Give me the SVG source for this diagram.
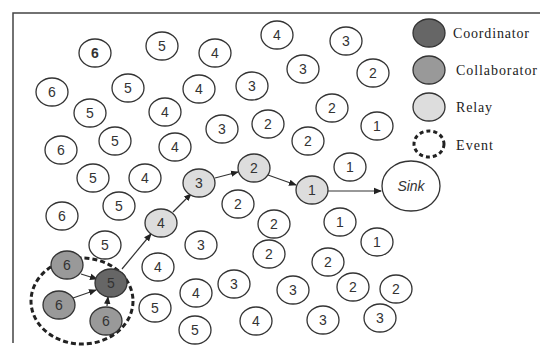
<svg xmlns="http://www.w3.org/2000/svg" width="540" height="347" viewBox="0 0 540 347">
<defs>
<marker id="ah" markerWidth="8" markerHeight="8" refX="7" refY="4" orient="auto" markerUnits="userSpaceOnUse">
<path d="M0,0.8 L8,4 L0,7.2 Z" fill="#222"/>
</marker>
<style>
.n ellipse{fill:#fff;stroke:#333;stroke-width:1.3}
.n text{font-family:"Liberation Sans",Arial,sans-serif;font-size:14px;fill:#333;text-anchor:middle}
.relay ellipse{fill:#ddd}
.coll ellipse{fill:#999}
.coord ellipse{fill:#666}
.lg{font-family:"Liberation Serif","Times New Roman",serif;font-size:14px;fill:#222}
.c line{stroke:#333;stroke-width:1.2;marker-end:url(#ah)}
</style>
</defs>
<rect width="540" height="347" fill="#fff"/>
<path d="M540,13 H13 V343" fill="none" stroke="#444" stroke-width="1.5"/>

<g id="event"><ellipse cx="82" cy="301" rx="51" ry="43" fill="none" stroke="#222" stroke-width="3" stroke-dasharray="5,3"/></g>

<g class="c" id="connectors">
<line x1="173" y1="212" x2="191" y2="194"/>
<line x1="215" y1="178" x2="238" y2="172"/>
<line x1="268" y1="175" x2="296" y2="185"/>
<line x1="327" y1="191" x2="381" y2="191"/>
<line x1="122" y1="269" x2="151" y2="234"/>
<line x1="81" y1="274" x2="97" y2="279"/>
<line x1="73" y1="298" x2="96" y2="290"/>
<line x1="107" y1="306" x2="108" y2="297"/>
</g>

<g class="n" id="n1"><ellipse cx="95" cy="53" rx="16" ry="14"/><text x="95" y="58" font-weight="bold">6</text></g>
<g class="n" id="n2"><ellipse cx="162" cy="46" rx="16" ry="14"/><text x="162" y="51">5</text></g>
<g class="n" id="n3"><ellipse cx="215" cy="53" rx="16" ry="14"/><text x="215" y="58">4</text></g>
<g class="n" id="n4"><ellipse cx="277" cy="35" rx="16" ry="14"/><text x="277" y="40">4</text></g>
<g class="n" id="n5"><ellipse cx="346" cy="41" rx="16" ry="14"/><text x="346" y="46">3</text></g>
<g class="n" id="n6"><ellipse cx="52" cy="92" rx="16" ry="14"/><text x="52" y="97">6</text></g>
<g class="n" id="n7"><ellipse cx="128" cy="88" rx="16" ry="14"/><text x="128" y="93">5</text></g>
<g class="n" id="n8"><ellipse cx="199" cy="89" rx="16" ry="14"/><text x="199" y="94">4</text></g>
<g class="n" id="n9"><ellipse cx="303" cy="69" rx="16" ry="14"/><text x="303" y="74">3</text></g>
<g class="n" id="n10"><ellipse cx="373" cy="73" rx="16" ry="14"/><text x="373" y="78">2</text></g>
<g class="n" id="n11"><ellipse cx="90" cy="113" rx="16" ry="14"/><text x="90" y="118">5</text></g>
<g class="n" id="n12"><ellipse cx="165" cy="112" rx="16" ry="14"/><text x="165" y="117">4</text></g>
<g class="n" id="n13"><ellipse cx="252" cy="86" rx="16" ry="14"/><text x="252" y="91">3</text></g>
<g class="n" id="n14"><ellipse cx="332" cy="108" rx="16" ry="14"/><text x="332" y="113">2</text></g>
<g class="n" id="n15"><ellipse cx="61" cy="150" rx="16" ry="14"/><text x="61" y="155">6</text></g>
<g class="n" id="n16"><ellipse cx="115" cy="141" rx="16" ry="14"/><text x="115" y="146">5</text></g>
<g class="n" id="n17"><ellipse cx="175" cy="147" rx="16" ry="14"/><text x="175" y="152">4</text></g>
<g class="n" id="n18"><ellipse cx="222" cy="129" rx="16" ry="14"/><text x="222" y="134">3</text></g>
<g class="n" id="n19"><ellipse cx="268" cy="124" rx="16" ry="14"/><text x="268" y="129">2</text></g>
<g class="n" id="n20"><ellipse cx="308" cy="141" rx="16" ry="14"/><text x="308" y="146">2</text></g>
<g class="n" id="n21"><ellipse cx="377" cy="126" rx="16" ry="14"/><text x="377" y="131">1</text></g>
<g class="n" id="n22"><ellipse cx="93" cy="178" rx="16" ry="14"/><text x="93" y="183">5</text></g>
<g class="n" id="n23"><ellipse cx="145" cy="178" rx="16" ry="14"/><text x="145" y="183">4</text></g>
<g class="n" id="n24"><ellipse cx="350" cy="167" rx="16" ry="14"/><text x="350" y="172">1</text></g>
<g class="n" id="n25"><ellipse cx="62" cy="216" rx="16" ry="14"/><text x="62" y="221">6</text></g>
<g class="n" id="n26"><ellipse cx="119" cy="206" rx="16" ry="14"/><text x="119" y="211">5</text></g>
<g class="n" id="n27"><ellipse cx="238" cy="204" rx="16" ry="14"/><text x="238" y="209">2</text></g>
<g class="n" id="n28"><ellipse cx="274" cy="224" rx="16" ry="14"/><text x="274" y="229">2</text></g>
<g class="n" id="n29"><ellipse cx="340" cy="222" rx="16" ry="14"/><text x="340" y="227">1</text></g>
<g class="n" id="n30"><ellipse cx="105" cy="245" rx="16" ry="14"/><text x="105" y="250">5</text></g>
<g class="n" id="n31"><ellipse cx="201" cy="245" rx="16" ry="14"/><text x="201" y="250">3</text></g>
<g class="n" id="n32"><ellipse cx="269" cy="254" rx="16" ry="14"/><text x="269" y="259">2</text></g>
<g class="n" id="n33"><ellipse cx="377" cy="242" rx="16" ry="14"/><text x="377" y="247">1</text></g>
<g class="n" id="n34"><ellipse cx="328" cy="262" rx="16" ry="14"/><text x="328" y="267">2</text></g>
<g class="n" id="n35"><ellipse cx="158" cy="267" rx="16" ry="14"/><text x="158" y="272">4</text></g>
<g class="n" id="n36"><ellipse cx="234" cy="284" rx="16" ry="14"/><text x="234" y="289">3</text></g>
<g class="n" id="n37"><ellipse cx="196" cy="293" rx="16" ry="14"/><text x="196" y="298">4</text></g>
<g class="n" id="n38"><ellipse cx="293" cy="290" rx="16" ry="14"/><text x="293" y="295">3</text></g>
<g class="n" id="n39"><ellipse cx="353" cy="287" rx="16" ry="14"/><text x="353" y="292">2</text></g>
<g class="n" id="n40"><ellipse cx="396" cy="289" rx="16" ry="14"/><text x="396" y="294">2</text></g>
<g class="n" id="n41"><ellipse cx="155" cy="308" rx="16" ry="14"/><text x="155" y="313">5</text></g>
<g class="n" id="n42"><ellipse cx="256" cy="321" rx="16" ry="14"/><text x="256" y="326">4</text></g>
<g class="n" id="n43"><ellipse cx="323" cy="320" rx="16" ry="14"/><text x="323" y="325">3</text></g>
<g class="n" id="n44"><ellipse cx="380" cy="318" rx="16" ry="14"/><text x="380" y="323">3</text></g>
<g class="n" id="n45"><ellipse cx="195" cy="330" rx="16" ry="14"/><text x="195" y="335">5</text></g>

<g class="n relay" id="r4"><ellipse cx="161" cy="223" rx="16" ry="14"/><text x="161" y="228">4</text></g>
<g class="n relay" id="r3"><ellipse cx="199" cy="183" rx="16" ry="14"/><text x="199" y="188">3</text></g>
<g class="n relay" id="r2"><ellipse cx="254" cy="168" rx="16" ry="14"/><text x="254" y="173">2</text></g>
<g class="n relay" id="r1"><ellipse cx="312" cy="190" rx="16" ry="14"/><text x="312" y="195">1</text></g>

<g class="n coll" id="c1"><ellipse cx="67" cy="265" rx="16" ry="14"/><text x="67" y="270">6</text></g>
<g class="n coll" id="c2"><ellipse cx="59" cy="305" rx="16" ry="14"/><text x="59" y="310">6</text></g>
<g class="n coll" id="c3"><ellipse cx="106" cy="321" rx="16" ry="14"/><text x="106" y="326">6</text></g>
<g class="n coord" id="coord"><ellipse cx="111" cy="283" rx="16" ry="14"/><text x="111" y="288">5</text></g>

<g class="n" id="sink"><ellipse cx="411" cy="186" rx="29" ry="25"/><text x="411" y="191" font-style="italic" font-size="13">Sink</text></g>

<g id="legend">
<ellipse cx="429" cy="33" rx="16" ry="14" fill="#666" stroke="#333" stroke-width="1.3"/>
<text class="lg" x="453" y="38" textLength="76">Coordinator</text>
<ellipse cx="429" cy="70" rx="16" ry="14" fill="#999" stroke="#333" stroke-width="1.3"/>
<text class="lg" x="456" y="75" textLength="81">Collaborator</text>
<ellipse cx="429" cy="107" rx="16" ry="14" fill="#ddd" stroke="#333" stroke-width="1.3"/>
<text class="lg" x="456" y="112" textLength="36">Relay</text>
<ellipse cx="429" cy="144" rx="15" ry="13" fill="none" stroke="#222" stroke-width="3" stroke-dasharray="4,3"/>
<text class="lg" x="456" y="150" textLength="37">Event</text>
</g>
</svg>
